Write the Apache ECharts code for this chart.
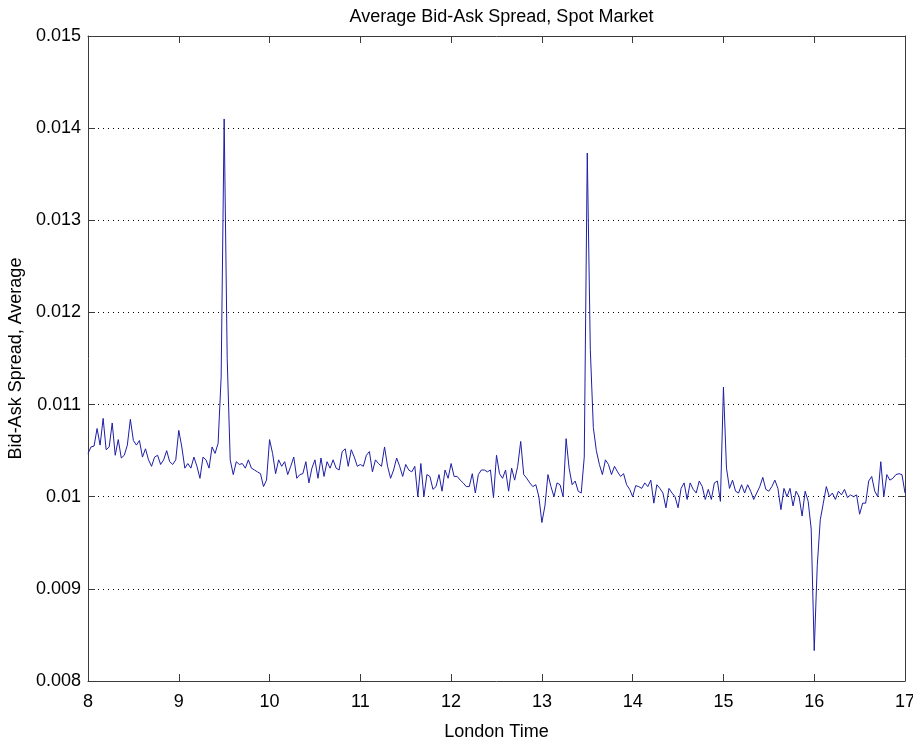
<!DOCTYPE html>
<html>
<head>
<meta charset="utf-8">
<script src="https://cdn.jsdelivr.net/npm/echarts@6/dist/echarts.min.js"></script>
<style>
  html, body { margin: 0; padding: 0; background: #fff; }
  #chart { width: 913px; height: 743px; }
</style>
</head>
<body>
<div id="chart"></div>
<script>
// Session runs 08:00 to 17:00 London time, one average every two minutes.
const startHour = 8;
const stepMinutes = 2;
const xTicks = [8, 9, 10, 11, 12, 13, 14, 15, 16, 17];
const yTicks = [0.008, 0.009, 0.010, 0.011, 0.012, 0.013, 0.014, 0.015];

// Average bid-ask spread for each two-minute interval.
const spread = [
  0.01047, 0.01054, 0.01055, 0.01074, 0.01056, 0.01085, 0.01051, 0.01054, 0.01080, 0.01045,
  0.01062, 0.01042, 0.01045, 0.01056, 0.01084, 0.01061, 0.01056, 0.01061, 0.01043, 0.01052,
  0.01040, 0.01033, 0.01043, 0.01045, 0.01035, 0.01040, 0.01050, 0.01038, 0.01035, 0.01040,
  0.01072, 0.01054, 0.01031, 0.01036, 0.01031, 0.01043, 0.01033, 0.01020, 0.01043, 0.01040,
  0.01031, 0.01054, 0.01047, 0.01058, 0.01130, 0.01410, 0.01150, 0.01040, 0.01024, 0.01038,
  0.01035, 0.01036, 0.01031, 0.01040, 0.01031, 0.01029, 0.01027, 0.01025, 0.01011, 0.01018,
  0.01062, 0.01047, 0.01025, 0.01040, 0.01033, 0.01038, 0.01024, 0.01033, 0.01043, 0.01020,
  0.01024, 0.01025, 0.01038, 0.01015, 0.01031, 0.01040, 0.01020, 0.01042, 0.01022, 0.01038,
  0.01031, 0.01040, 0.01031, 0.01029, 0.01049, 0.01052, 0.01033, 0.01051, 0.01043, 0.01033,
  0.01035, 0.01033, 0.01045, 0.01049, 0.01027, 0.01040, 0.01036, 0.01033, 0.01054, 0.01033,
  0.01020, 0.01029, 0.01042, 0.01033, 0.01022, 0.01035, 0.01029, 0.01027, 0.01033, 0.01000,
  0.01036, 0.01000, 0.01024, 0.01022, 0.01008, 0.01011, 0.01024, 0.01006, 0.01029, 0.01020,
  0.01036, 0.01022, 0.01022, 0.01018, 0.01015, 0.01011, 0.01011, 0.01025, 0.01004, 0.01024,
  0.01029, 0.01029, 0.01027, 0.01029, 0.00999, 0.01045, 0.01025, 0.01020, 0.01029, 0.01006,
  0.01031, 0.01018, 0.01033, 0.01060, 0.01024, 0.01020, 0.01015, 0.01011, 0.01013, 0.01000,
  0.00972, 0.00990, 0.01024, 0.01011, 0.01000, 0.01015, 0.01013, 0.01000, 0.01063, 0.01031,
  0.01013, 0.01017, 0.01006, 0.01004, 0.01043, 0.01373, 0.01160, 0.01075, 0.01050, 0.01035,
  0.01024, 0.01040, 0.01035, 0.01024, 0.01033, 0.01027, 0.01022, 0.01025, 0.01013, 0.01008,
  0.01000, 0.01012, 0.01011, 0.01009, 0.01015, 0.01011, 0.01018, 0.00993, 0.01013, 0.01009,
  0.01004, 0.00988, 0.01009, 0.01004, 0.01000, 0.00988, 0.01009, 0.01015, 0.00997, 0.01015,
  0.01008, 0.01004, 0.01017, 0.01011, 0.00997, 0.01008, 0.00997, 0.01015, 0.01017, 0.00995,
  0.01119, 0.01031, 0.01009, 0.01018, 0.01006, 0.01004, 0.01013, 0.01004, 0.01013, 0.01006,
  0.00997, 0.01004, 0.01011, 0.01021, 0.01008, 0.01006, 0.01011, 0.01018, 0.01009, 0.00986,
  0.01009, 0.01000, 0.01009, 0.00990, 0.01006, 0.01000, 0.00979, 0.01006, 0.00995, 0.00965,
  0.00833, 0.00925, 0.00975, 0.00993, 0.01011, 0.01000, 0.01004, 0.00997, 0.01006, 0.01002,
  0.01008, 0.00999, 0.01002, 0.01000, 0.01002, 0.00981, 0.00993, 0.00993, 0.01017, 0.01022,
  0.01006, 0.01000, 0.01038, 0.01000, 0.01024, 0.01018, 0.01020, 0.01024, 0.01025, 0.01024,
  0.01004
];

const points = spread.map((v, i) => [startHour + (i * stepMinutes) / 60, v]);

const FONT = 'Arial, "Liberation Sans", Helvetica, sans-serif';
const AXIS_COLOR = '#3a3a3a';
const fmtY = v => String(+v.toFixed(3));

const plot = { left: 88, right: 8, top: 36, bottom: 62 };

const baseX = {
  type: 'value',
  min: xTicks[0],
  max: xTicks[xTicks.length - 1],
  interval: 1,
  axisLine: { show: true, onZero: false, lineStyle: { color: AXIS_COLOR, width: 1 } },
  axisTick: { show: true, inside: true, length: 7, lineStyle: { color: AXIS_COLOR } },
  splitLine: { show: false }
};
const baseY = {
  type: 'value',
  min: yTicks[0],
  max: yTicks[yTicks.length - 1],
  interval: 0.001,
  axisLine: { show: true, onZero: false, lineStyle: { color: AXIS_COLOR, width: 1 } },
  axisTick: { show: true, inside: true, length: 7, lineStyle: { color: AXIS_COLOR } }
};

const chart = echarts.init(document.getElementById('chart'), null, { renderer: 'canvas' });
chart.setOption({
  animation: false,
  backgroundColor: '#ffffff',
  title: {
    text: 'Average Bid-Ask Spread, Spot Market',
    left: plot.left + (913 - plot.left - plot.right) / 2,
    textAlign: 'center',
    top: 3,
    textStyle: { fontFamily: FONT, fontSize: 18, fontWeight: 'normal', color: '#000' }
  },
  grid: {
    left: plot.left, right: plot.right, top: plot.top, bottom: plot.bottom,
    containLabel: false,
    outerBoundsMode: 'none'
  },
  xAxis: [
    Object.assign({}, baseX, {
      position: 'bottom',
      name: 'London Time',
      nameLocation: 'middle',
      nameGap: 42,
      nameTextStyle: { fontFamily: FONT, fontSize: 18, color: '#000' },
      axisLabel: { show: true, margin: 12, fontFamily: FONT, fontSize: 18, color: '#000' }
    }),
    Object.assign({}, baseX, {
      position: 'top',
      axisLabel: { show: false }
    })
  ],
  yAxis: [
    Object.assign({}, baseY, {
      position: 'left',
      name: 'Bid-Ask Spread, Average',
      nameLocation: 'middle',
      nameGap: 60,
      nameRotate: 90,
      nameTextStyle: { fontFamily: FONT, fontSize: 18, color: '#000' },
      axisLabel: { show: true, margin: 7, fontFamily: FONT, fontSize: 18, color: '#000', formatter: fmtY },
      splitLine: { show: true, lineStyle: { type: [1, 4], color: '#000', width: 1 } }
    }),
    Object.assign({}, baseY, {
      position: 'right',
      axisLabel: { show: false },
      splitLine: { show: false }
    })
  ],
  series: [{
    type: 'line',
    data: points,
    xAxisIndex: 0,
    yAxisIndex: 0,
    showSymbol: false,
    symbol: 'none',
    lineStyle: { color: '#1e1ea6', width: 1 },
    z: 3
  }]
});
</script>
</body>
</html>
